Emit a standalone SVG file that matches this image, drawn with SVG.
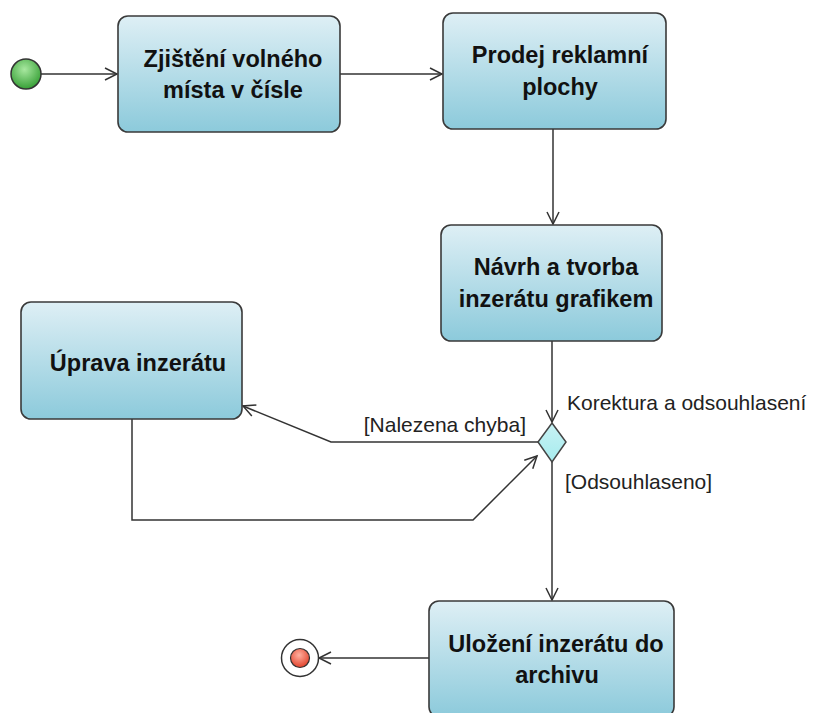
<svg xmlns="http://www.w3.org/2000/svg" width="814" height="713" viewBox="0 0 814 713">
<defs>
<linearGradient id="nodeFill" x1="0" y1="0" x2="0" y2="1">
<stop offset="0" stop-color="#deeff5"/>
<stop offset="1" stop-color="#8ccadb"/>
</linearGradient>
<linearGradient id="diaFill" x1="0" y1="0" x2="0" y2="1">
<stop offset="0" stop-color="#c8f2f4"/>
<stop offset="1" stop-color="#a6ecee"/>
</linearGradient>
<radialGradient id="startFill" cx="0.45" cy="0.35" r="0.7">
<stop offset="0" stop-color="#a8e8a0"/>
<stop offset="1" stop-color="#2e9a2e"/>
</radialGradient>
<radialGradient id="endFill" cx="0.45" cy="0.35" r="0.7">
<stop offset="0" stop-color="#ffb0a0"/>
<stop offset="1" stop-color="#e03a22"/>
</radialGradient>
<marker id="arrow" markerUnits="userSpaceOnUse" markerWidth="16" markerHeight="16" refX="13" refY="7" orient="auto">
<path d="M1,1 L13,7 L1,13" fill="none" stroke="#333" stroke-width="1.5"/>
</marker>
</defs>
<style>
.node rect{fill:url(#nodeFill);stroke:#3a3a3a;stroke-width:1.6}
.node text{font-family:"Liberation Sans",Arial,sans-serif;font-weight:bold;font-size:23.5px;fill:#111;text-anchor:middle}
.edges path{fill:none;stroke:#333;stroke-width:1.5}
.lbl{font-family:"Liberation Sans",Arial,sans-serif;font-size:21px;fill:#222}
</style>
<rect width="814" height="713" fill="#fff"/>
<g class="edges" id="connectors">
<path d="M41,74 L117,74" marker-end="url(#arrow)"/>
<path d="M340,74 L442,74" marker-end="url(#arrow)"/>
<path d="M553,129 L553,224" marker-end="url(#arrow)"/>
<path d="M552,341 L552,422" marker-end="url(#arrow)"/>
<path d="M538,442 L331,442 L243,406" marker-end="url(#arrow)"/>
<path d="M132,419 L132,520 L473,520 L537,456" marker-end="url(#arrow)"/>
<path d="M552,462 L552,600" marker-end="url(#arrow)"/>
<path d="M429,658 L319,658" marker-end="url(#arrow)"/>
</g>
<g id="start">
<circle cx="26" cy="74" r="15" fill="url(#startFill)" stroke="#333" stroke-width="1.5"/>
</g>
<g id="n1" class="node">
<rect x="118" y="16" width="222" height="116" rx="10"/>
<text x="233" y="67">Zjištění volného</text>
<text x="233" y="98">místa v čísle</text>
</g>
<g id="n2" class="node">
<rect x="443" y="13" width="223" height="116" rx="10"/>
<text x="560" y="63">Prodej reklamní</text>
<text x="560" y="95">plochy</text>
</g>
<g id="n3" class="node">
<rect x="441" y="225" width="221" height="116" rx="10"/>
<text x="556" y="275">Návrh a tvorba</text>
<text x="556" y="307">inzerátu grafikem</text>
</g>
<g id="n4" class="node">
<rect x="21" y="302" width="221" height="117" rx="10"/>
<text x="138" y="371">Úprava inzerátu</text>
</g>
<g id="n5" class="node">
<rect x="429" y="601" width="245" height="116" rx="10"/>
<text x="556" y="652">Uložení inzerátu do</text>
<text x="557" y="683">archivu</text>
</g>
<g id="decision">
<path d="M552,423 L566,442 L552,462 L538,442 Z" fill="url(#diaFill)" stroke="#444" stroke-width="1.5"/>
<text class="lbl" x="567" y="410">Korektura a odsouhlasení</text>
</g>
<g id="guards">
<text class="lbl" x="526" y="432" text-anchor="end">[Nalezena chyba]</text>
<text class="lbl" x="565" y="489">[Odsouhlaseno]</text>
</g>
<g id="end">
<circle cx="300" cy="658" r="18.5" fill="#fff" stroke="#333" stroke-width="1.5"/>
<circle cx="300" cy="658" r="9.5" fill="url(#endFill)" stroke="#333" stroke-width="1.2"/>
</g>
</svg>
